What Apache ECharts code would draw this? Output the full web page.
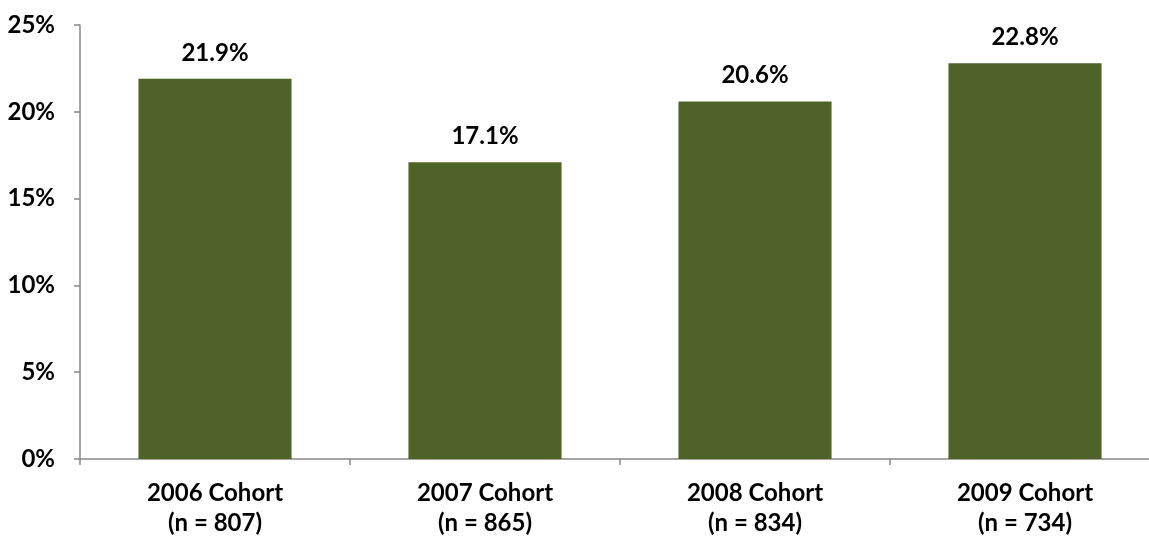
<!DOCTYPE html>
<html>
<head>
<meta charset="utf-8">
<script src="https://cdn.jsdelivr.net/npm/echarts@6/dist/echarts.min.js"></script>
<style>html,body{margin:0;padding:0;background:#fff;}#c{width:1149px;height:538px;}</style>
</head>
<body>
<div id="c"></div>
<script>
const categories = ["2006 Cohort\n(n = 807)", "2007 Cohort\n(n = 865)", "2008 Cohort\n(n = 834)", "2009 Cohort\n(n = 734)"];
const values = [21.9, 17.1, 20.6, 22.8];
const yTicks = [0, 5, 10, 15, 20, 25];

const chart = echarts.init(document.getElementById('c'), null, {renderer: 'canvas'});
const font = 'Lato, "Open Sans", sans-serif';
chart.setOption({
  animation: false,
  grid: {left: 80, top: 25, right: -11, bottom: 79, containLabel: false, outerBoundsMode: 'none'},
  xAxis: {
    type: 'category',
    data: categories,
    axisLine: {lineStyle: {color: '#888888', width: 1.5}},
    axisTick: {show: true, length: 6, lineStyle: {color: '#888888', width: 1.5}},
    axisLabel: {fontFamily: font, fontWeight: 'bold', fontSize: 24, color: '#000', lineHeight: 30, margin: 19}
  },
  yAxis: {
    type: 'value',
    min: yTicks[0], max: yTicks[yTicks.length - 1], interval: 5,
    splitLine: {show: false},
    axisLine: {show: true, lineStyle: {color: '#888888', width: 1.5}},
    axisTick: {show: true, length: 6, lineStyle: {color: '#888888', width: 1.5}},
    axisLabel: {fontFamily: font, fontWeight: 'bold', fontSize: 24, color: '#000', margin: 25, formatter: v => v + '%'}
  },
  series: [{
    type: 'bar',
    data: values,
    barWidth: '56.7%',
    itemStyle: {color: '#4F6228'},
    label: {show: true, position: 'top', distance: 14, lineHeight: 24, fontFamily: font, fontWeight: 'bold', fontSize: 24, color: '#000', formatter: p => p.value.toFixed(1) + '%'}
  }]
});
</script>
</body>
</html>
